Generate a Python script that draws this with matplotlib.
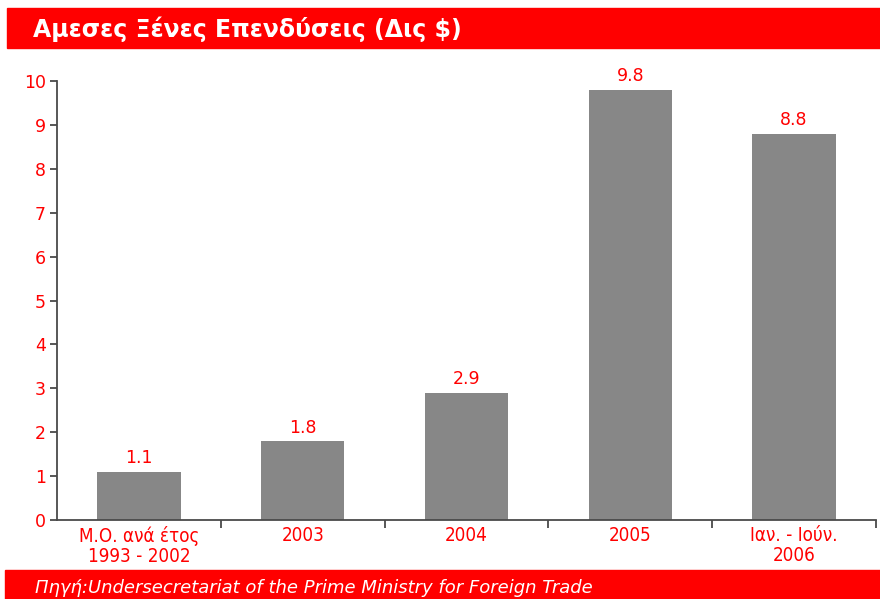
import matplotlib
matplotlib.use("Agg")
import matplotlib.pyplot as plt
from matplotlib.patches import Rectangle

# Foreign direct investment, billion $
categories = ["Μ.Ο. ανά έτος\n1993 - 2002", "2003", "2004", "2005", "Ιαν. - Ιούν.\n2006"]
values = [1.1, 1.8, 2.9, 9.8, 8.8]
value_labels = ["1.1", "1.8", "2.9", "9.8", "8.8"]
yticks = [0, 1, 2, 3, 4, 5, 6, 7, 8, 9, 10]

title = "Αμεσες Ξένες Επενδύσεις (Δις $)"
source = "Πηγή:Undersecretariat of the Prime Ministry for Foreign Trade"

red = "#ff0000"
bar_color = "#878787"
axis_color = "#4a4a4a"

plt.rcParams['font.family'] = ['DejaVu Sans']

W, H = 880, 599
fig = plt.figure(figsize=(W / 100, H / 100), dpi=100)
fig.patch.set_facecolor("white")

# red bands for title and footer
fig.patches.append(Rectangle((7 / W, 1 - 48 / H), 1 - 7 / W, 40 / H,
                             transform=fig.transFigure, color=red, zorder=0))
fig.patches.append(Rectangle((5 / W, 0), 1 - 5 / W, 29 / H,
                             transform=fig.transFigure, color=red, zorder=0))
fig.text(33 / W, 1 - 29 / H, title, color="white", fontsize=17,
         fontweight="bold", va="center", ha="left")
fig.text(35 / W, 11 / H, source, color="white", fontsize=13,
         fontstyle="italic", va="center", ha="left")

ax = fig.add_axes([57 / W, 79 / H, 819 / W, 439 / H])
x = range(len(categories))
ax.bar(x, values, width=0.51, color=bar_color, zorder=2)
for xi, v, lab in zip(x, values, value_labels):
    ax.text(xi, v + 0.1, lab, ha="center", va="bottom", color=red, fontsize=12.5)

ax.set_xlim(-0.5, len(categories) - 0.5)
ax.set_ylim(0, 10)
ax.set_yticks(yticks)
ax.set_xticks(x)
ax.set_xticklabels(categories, fontsize=13.5, color=red, fontstretch="condensed",
                   linespacing=1.1)
ax.set_xticks([i + 0.5 for i in range(len(categories))], minor=True)
ax.tick_params(axis="x", which="major", length=0, pad=4)
ax.tick_params(axis="x", which="minor", length=6, width=1.3, color=axis_color)
ax.tick_params(axis="y", labelsize=12.5, labelcolor=red, length=5, width=1.3,
               color=axis_color, pad=3)

for side in ["top", "right"]:
    ax.spines[side].set_visible(False)
for side in ["left", "bottom"]:
    ax.spines[side].set_color(axis_color)
    ax.spines[side].set_linewidth(1.3)

fig.savefig("out.png", dpi=100)
